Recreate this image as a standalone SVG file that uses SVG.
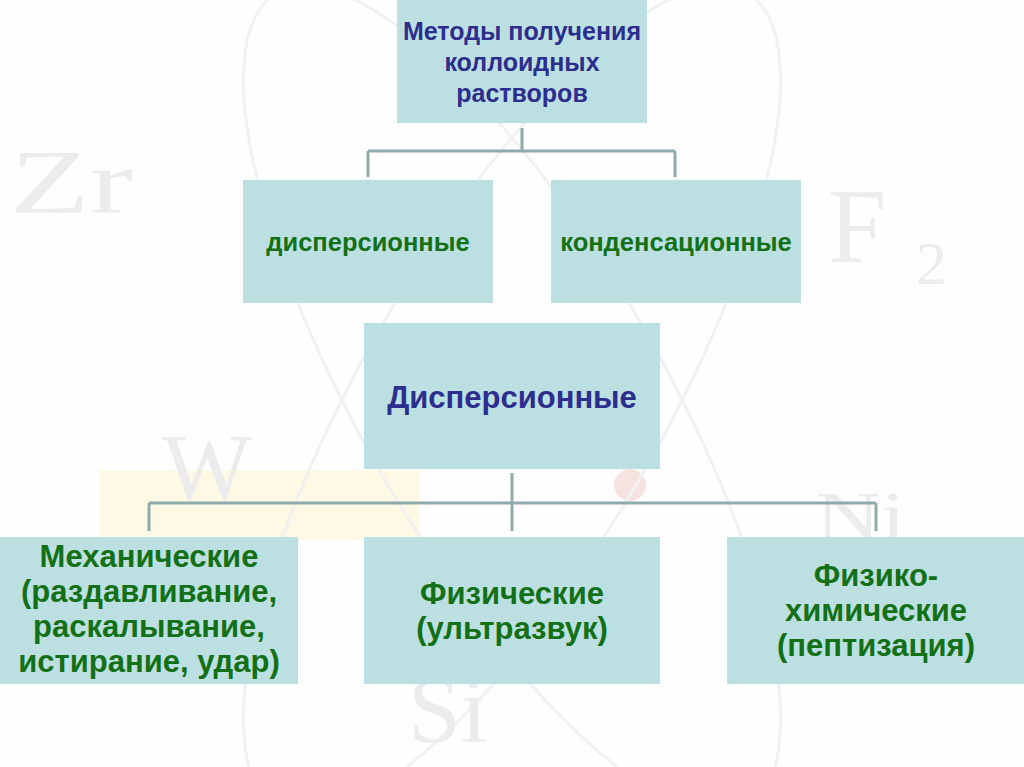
<svg xmlns="http://www.w3.org/2000/svg" width="1024" height="767" viewBox="0 0 1024 767">
<style>
.box{fill:#bce0e2}
.conn{fill:none;stroke:#8faaaa;stroke-width:3}
.t{font-family:"Liberation Sans",Arial,sans-serif;font-weight:bold;text-anchor:middle}
.blue{fill:#2d2d8e}
.green{fill:#137016}
.wm{font-family:"Liberation Serif","Times New Roman",serif;fill:#ececec}
.curve{fill:none;stroke:#f1f1f1;stroke-width:3}
</style>
<g id="background">
<rect x="0" y="0" width="1024" height="767" fill="#fefefe"/>
<rect x="100" y="470" width="320" height="70" fill="#fdf9e4"/>
<circle cx="630" cy="485" r="16" fill="#f7e2e2"/>
<ellipse cx="512" cy="400" rx="470" ry="150" class="curve" transform="rotate(-60 512 400)"/>
<ellipse cx="512" cy="400" rx="470" ry="150" class="curve" transform="rotate(60 512 400)"/>
<text class="wm" font-size="90" transform="translate(10 213) scale(1.45 1)">Zr</text>
<text class="wm" font-size="105" x="828" y="262">F</text>
<text class="wm" font-size="62" x="916" y="284">2</text>
<text class="wm" font-size="95" x="162" y="500">W</text>
<text class="wm" font-size="70" transform="translate(815 540) scale(1.3 1)">Ni</text>
<text class="wm" font-size="95" x="408" y="742">Si</text>
</g>
<g id="connectors">
<path class="conn" d="M522 128V151M368 151H675M368 151V177M675 151V177"/>
<path class="conn" d="M512 473V503M149 503H876M149 503V531M512 503V531M876 503V531"/>
</g>
<g id="n-root">
<rect class="box" x="397" y="0" width="250" height="123"/>
<text class="t blue" font-size="25"><tspan x="522" y="40">Методы получения</tspan><tspan x="522" y="71">коллоидных</tspan><tspan x="522" y="102">растворов</tspan></text>
</g>
<g id="n-disp1">
<rect class="box" x="243" y="180" width="250" height="123"/>
<text class="t green" font-size="25.5" x="368" y="251">дисперсионные</text>
</g>
<g id="n-cond">
<rect class="box" x="551" y="180" width="250" height="123"/>
<text class="t green" font-size="25.5" x="676" y="251">конденсационные</text>
</g>
<g id="n-disp2">
<rect class="box" x="364" y="323" width="296" height="146"/>
<text class="t blue" font-size="31" x="512" y="408">Дисперсионные</text>
</g>
<g id="n-mech">
<rect class="box" x="0" y="537" width="298" height="147"/>
<text class="t green" font-size="31"><tspan x="149" y="567">Механические</tspan><tspan x="149" y="602">(раздавливание,</tspan><tspan x="149" y="637">раскалывание,</tspan><tspan x="149" y="672">истирание, удар)</tspan></text>
</g>
<g id="n-phys">
<rect class="box" x="364" y="537" width="296" height="147"/>
<text class="t green" font-size="31"><tspan x="512" y="604">Физические</tspan><tspan x="512" y="639">(ультразвук)</tspan></text>
</g>
<g id="n-physchem">
<rect class="box" x="727" y="537" width="297" height="147"/>
<text class="t green" font-size="31"><tspan x="876" y="586">Физико-</tspan><tspan x="876" y="621">химические</tspan><tspan x="876" y="656">(пептизация)</tspan></text>
</g>
</svg>
